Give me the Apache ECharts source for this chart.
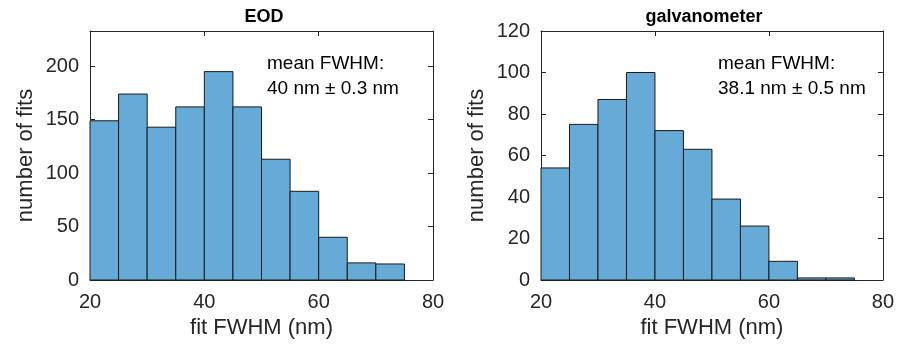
<!DOCTYPE html>
<html>
<head>
<meta charset="utf-8">
<script src="https://cdn.jsdelivr.net/npm/echarts@6/dist/echarts.min.js"></script>
<style>
  html, body { margin: 0; padding: 0; background: #fff; }
  #chart { width: 897px; height: 347px; }
</style>
</head>
<body>
<div id="chart"></div>
<script>
// bin edges shared by both histograms (nm)
const binStarts = [20, 25, 30, 35, 40, 45, 50, 55, 60, 65, 70]
const binWidth = 5
const eodCounts = [149, 174, 143, 162, 195, 162, 113, 83, 40, 16, 15]
const galvoCounts = [54, 75, 87, 100, 72, 63, 39, 26, 9, 1, 1]
const panelTitles = ['EOD', 'galvanometer']
const meanLabels = [
  ['mean FWHM:', '40 nm \u00b1 0.3 nm'],
  ['mean FWHM:', '38.1 nm \u00b1 0.5 nm'],
]
const xTicks = [20, 40, 60, 80]
const yMax = [233, 120]
const yStep = [50, 20]

const FONT = '"Liberation Sans", Arial, Helvetica, sans-serif'
const AXIS = '#262626'
const BAR = '#66aad7'

const toBins = (counts) => counts.map((c, i) => [binStarts[i], binStarts[i] + binWidth, c])

function histItem(params, api) {
  const p0 = api.coord([api.value(0), api.value(2)])
  const p1 = api.coord([api.value(1), 0])
  return {
    type: 'rect',
    shape: { x: p0[0], y: p0[1], width: p1[0] - p0[0], height: p1[1] - p0[1] },
    style: { fill: BAR, stroke: '#1a1a1a', lineWidth: 1 },
  }
}

const grids = [
  { left: 90, right: 464, top: 31, bottom: 67 },
  { left: 541, right: 14, top: 31, bottom: 67 },
]

const xAxes = []
const yAxes = []
grids.forEach((g, i) => {
  const base = {
    gridIndex: i,
    type: 'value',
    min: xTicks[0],
    max: xTicks[xTicks.length - 1],
    interval: xTicks[1] - xTicks[0],
    axisLine: { show: true, onZero: false, lineStyle: { color: AXIS, width: 1 } },
    axisTick: { show: true, inside: true, length: 5, lineStyle: { color: AXIS } },
    splitLine: { show: false },
  }
  xAxes.push({
    ...base,
    position: 'bottom',
    name: 'fit FWHM (nm)',
    nameLocation: 'middle',
    nameGap: 36,
    nameTextStyle: { fontFamily: FONT, fontSize: 22, color: AXIS },
    axisLabel: { fontFamily: FONT, fontSize: 20, color: AXIS, margin: 12 },
  })
  xAxes.push({ ...base, position: 'top', axisLabel: { show: false } })

  const ybase = {
    gridIndex: i,
    type: 'value',
    min: 0,
    max: yMax[i],
    interval: yStep[i],
    axisLine: { show: true, onZero: false, lineStyle: { color: AXIS, width: 1 } },
    axisTick: { show: true, inside: true, length: 5, lineStyle: { color: AXIS } },
    splitLine: { show: false },
  }
  yAxes.push({
    ...ybase,
    position: 'left',
    name: 'number of fits',
    nameLocation: 'middle',
    nameGap: 53,
    nameTextStyle: { fontFamily: FONT, fontSize: 22, color: AXIS },
    axisLabel: {
      fontFamily: FONT, fontSize: 20, color: AXIS, margin: 11,
      formatter: (v) => (v % yStep[i] === 0 ? String(v) : ''),
    },
  })
  yAxes.push({ ...ybase, position: 'right', axisLabel: { show: false } })
})

const chart = echarts.init(document.getElementById('chart'))
chart.setOption({
  animation: false,
  backgroundColor: '#fff',
  title: [
    { text: panelTitles[0], left: 259, top: 3, textAlign: 'center',
      textStyle: { fontFamily: FONT, fontSize: 18, fontWeight: 'bold', color: '#000' } },
    { text: panelTitles[1], left: 699, top: 3, textAlign: 'center',
      textStyle: { fontFamily: FONT, fontSize: 18, fontWeight: 'bold', color: '#000' } },
  ],
  graphic: [
    { type: 'text', left: 267, top: 51, style: { text: meanLabels[0].join('\n'), font: '19px ' + FONT, fill: '#000', lineHeight: 25 } },
    { type: 'text', left: 718, top: 51, style: { text: meanLabels[1].join('\n'), font: '19px ' + FONT, fill: '#000', lineHeight: 25 } },
  ],
  grid: grids,
  xAxis: xAxes,
  yAxis: yAxes,
  series: [
    { type: 'custom', xAxisIndex: 0, yAxisIndex: 0, renderItem: histItem,
      encode: { x: [0, 1], y: 2 }, data: toBins(eodCounts) },
    { type: 'custom', xAxisIndex: 2, yAxisIndex: 2, renderItem: histItem,
      encode: { x: [0, 1], y: 2 }, data: toBins(galvoCounts) },
  ],
})
</script>
</body>
</html>
